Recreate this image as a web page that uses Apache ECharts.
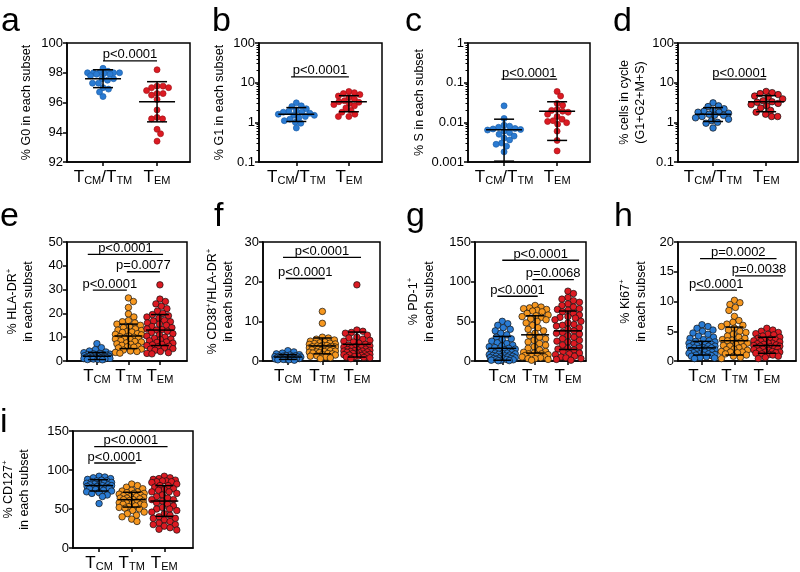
<!DOCTYPE html>
<html><head><meta charset="utf-8">
<script src="https://cdn.jsdelivr.net/npm/echarts@6/dist/echarts.min.js"></script>
<style>html,body{margin:0;padding:0;background:#fff}#c{width:800px;height:572px}</style>
</head><body><div id="c"></div>
<script>
// ---------------- data ----------------
const catsTwo = ['TCM/TTM', 'TEM'];
const catsThree = ['TCM', 'TTM', 'TEM'];

// a: % G0
const aTcm = [98.3, 98.1, 98.0, 98.0, 98.0, 98.0, 98.0, 97.95, 97.9, 97.9, 97.8, 97.6, 97.6, 97.5, 97.3, 97.3, 97.0, 96.9, 96.7, 96.4];
const aTem = [98.2, 97.1, 97.1, 97.0, 97.0, 96.8, 96.6, 96.6, 96.5, 96.2, 95.5, 95.0, 94.9, 94.9, 94.2, 93.9, 93.4];
const aErr = [[97.6, 97.0, 98.2], [96.05, 94.7, 97.4]];
const aSig = [[0, 1, 98.8]];
const aSigText = ['p<0.0001'];

// b: % G1
const bTcm = [3.1, 2.6, 2.5, 2.2, 2.0, 1.9, 1.8, 1.8, 1.7, 1.6, 1.5, 1.5, 1.4, 1.3, 1.2, 1.1, 1.0, 0.95, 0.72];
const bTem = [6.0, 5.6, 5.3, 5.0, 4.6, 4.3, 3.9, 3.5, 3.3, 3.2, 3.0, 2.8, 2.6, 2.3, 2.0, 1.8, 1.6, 1.4, 1.4];
const bErr = [[1.6, 1.05, 2.35], [3.3, 1.85, 4.7]];
const bSig = [[-0.1, 1, 14]];
const bSigText = ['p<0.0001'];

// c: % S
const cTcm = [0.026, 0.0125, 0.0085, 0.008, 0.0075, 0.007, 0.0068, 0.0066, 0.0064, 0.006, 0.0055, 0.005, 0.0045, 0.004, 0.0036, 0.003, 0.0028, 0.0025, 0.0018];
const cTem = [0.06, 0.046, 0.03, 0.027, 0.021, 0.02, 0.019, 0.018, 0.016, 0.014, 0.012, 0.011, 0.0105, 0.0098, 0.009, 0.006, 0.0035, 0.0019];
const cErr = [[0.0065, 0.00105, 0.012], [0.019, 0.0035, 0.033]];
const cSig = [[-0.05, 1, 0.123]];
const cSigText = ['p<0.0001'];

// d: % cells in cycle
const dTcm = [3.1, 2.6, 2.5, 2.2, 2.0, 1.9, 1.8, 1.8, 1.7, 1.6, 1.5, 1.5, 1.4, 1.3, 1.2, 1.1, 1.0, 0.95, 0.72];
const dTem = [6.0, 5.6, 5.3, 5.0, 4.6, 4.3, 3.9, 3.5, 3.3, 3.2, 3.0, 2.8, 2.6, 2.3, 2.0, 1.8, 1.6, 1.4, 1.4];
const dErr = [[1.6, 1.05, 2.35], [3.3, 1.85, 4.7]];
const dSig = [[0, 1, 12.3]];
const dSigText = ['p<0.0001'];

// e: % HLA-DR+
const eTcm = [7.3, 5.6, 4.8, 4.2, 3.8, 3.5, 3.2, 3.0, 2.9, 2.7, 2.6, 2.5, 2.4, 2.3, 2.2, 2.1, 2.0, 2.0, 1.9, 1.8, 1.7, 1.6, 1.5, 1.5, 1.4, 1.3, 1.2, 1.1, 1.0, 1.0, 0.9, 0.8, 0.7, 0.6, 0.5];
const eTtm = [26.5, 25.0, 22.5, 19.8, 18.5, 17.0, 16.5, 16.0, 15.5, 15.0, 14.5, 14.0, 13.5, 13.0, 12.8, 12.5, 12.2, 12.0, 11.5, 11.2, 11.0, 10.5, 10.2, 10.0, 9.6, 9.5, 9.2, 9.0, 8.6, 8.2, 8.0, 7.6, 7.2, 7.0, 6.6, 6.2, 6.0, 5.8, 5.5, 5.0, 4.6, 4.2, 4.0, 3.6, 3.3];
const eTem = [32, 26, 25, 24, 23, 22, 21, 20, 19.5, 19, 18.5, 18, 17, 16.8, 16.5, 16, 15.5, 15, 14.5, 14, 13.5, 13.2, 13, 12.5, 12, 11.5, 11, 10.5, 10, 9.5, 9.2, 9, 8.5, 8, 7.8, 7.5, 7, 6.8, 6.5, 6.2, 6, 5.5, 5.2, 5, 4.5, 4, 3.5, 3.2, 3];
const eErr = [[2.0, 0.6, 3.6], [10.5, 5.2, 15.5], [13.0, 6.5, 19.5]];
const eSig = [[-0.29, 2.1, 44.8], [0.95, 2.0, 37.5], [-0.13, 0.95, 29.8]];
const eSigText = ['p<0.0001', 'p=0.0077', 'p<0.0001'];

// f: % CD38+/HLA-DR+
const fTcm = [2.6, 2.3, 2.0, 1.8, 1.6, 1.5, 1.4, 1.3, 1.2, 1.2, 1.1, 1.1, 1.0, 1.0, 0.9, 0.9, 0.9, 0.8, 0.8, 0.7, 0.7, 0.6, 0.6, 0.5, 0.5, 0.4, 0.4, 0.3, 0.3, 0.2];
const fTtm = [12.5, 9.5, 6.0, 5.8, 5.5, 5.3, 5.0, 4.8, 4.6, 4.5, 4.4, 4.3, 4.2, 4.0, 3.9, 3.8, 3.7, 3.6, 3.6, 3.5, 3.4, 3.3, 3.2, 3.1, 3.0, 2.9, 2.8, 2.8, 2.7, 2.6, 2.5, 2.4, 2.3, 2.2, 2.1, 2.0, 1.9, 1.8, 1.6, 1.5, 1.3, 1.2, 1.0, 0.8, 0.6];
const fTem = [19.2, 7.8, 7.5, 7.2, 7.0, 6.5, 6.0, 5.8, 5.5, 5.2, 5.0, 4.8, 4.5, 4.2, 4.0, 3.8, 3.6, 3.5, 3.4, 3.2, 3.0, 2.9, 2.8, 2.7, 2.6, 2.5, 2.5, 2.4, 2.3, 2.2, 2.1, 2.0, 1.9, 1.8, 1.7, 1.6, 1.5, 1.4, 1.3, 1.2, 1.1, 1.0, 0.9, 0.8, 0.6];
const fErr = [[1.0, 0.4, 1.6], [3.8, 1.8, 5.8], [4.2, 1.0, 7.3]];
const fSig = [[-0.14, 2.12, 26.1], [-0.06, 1.07, 20.8]];
const fSigText = ['p<0.0001', 'p<0.0001'];

// g: % PD-1+
const gTcm = [50, 47, 45, 42, 40, 38, 35, 33, 30, 28, 27, 25, 23, 22, 20, 19, 18, 17, 16, 15, 14, 13, 12, 11, 10, 10, 9.5, 9, 8.5, 8, 7.5, 7, 6.5, 6, 6, 5.5, 5, 4.5, 4, 3.5, 3, 3, 2.5, 2, 2, 1.5, 1, 0.8, 0.5, 0.3];
const gTtm = [70, 68, 67, 66, 65, 64, 63, 62, 60, 58, 57, 56, 55, 53, 52, 50, 48, 45, 42, 40, 38, 35, 32, 30, 28, 26, 24, 22, 20, 18, 16, 14, 12, 11, 10, 9, 9, 8, 7, 7, 6, 5, 5, 4, 3, 3, 2, 1];
const gTem = [88, 85, 80, 78, 76, 74, 72, 70, 68, 66, 65, 64, 62, 60, 58, 56, 55, 54, 52, 50, 48, 46, 45, 44, 42, 40, 38, 36, 35, 34, 32, 30, 28, 26, 25, 24, 22, 20, 18, 16, 15, 14, 12, 10, 9, 8, 6, 5, 4, 3, 2, 1];
const gErr = [[16, 1, 31], [33, 10, 57], [38, 14.5, 63]];
const gSig = [[0, 2.34, 127], [0.92, 2.18, 102.5], [-0.15, 1.08, 81.6]];
const gSigText = ['p<0.0001', 'p=0.0068', 'p<0.0001'];

// h: % Ki67+
const hTcm = [6.1, 5.8, 5.5, 5.2, 5.0, 4.7, 4.5, 4.2, 4.0, 3.8, 3.6, 3.4, 3.3, 3.2, 3.0, 2.9, 2.8, 2.8, 2.7, 2.6, 2.5, 2.5, 2.4, 2.3, 2.2, 2.2, 2.1, 2.0, 1.9, 1.8, 1.8, 1.7, 1.6, 1.5, 1.5, 1.4, 1.3, 1.2, 1.2, 1.1, 1.0, 1.0, 0.9, 0.8, 0.7, 0.6, 0.5, 0.4];
const hTtm = [10.2, 9.8, 9.5, 9.0, 8.5, 7.5, 6.8, 6.5, 6.2, 6.0, 5.8, 5.5, 5.2, 5.0, 4.8, 4.5, 4.2, 4.0, 3.8, 3.6, 3.5, 3.4, 3.2, 3.0, 2.8, 2.6, 2.5, 2.4, 2.2, 2.0, 1.9, 1.8, 1.6, 1.5, 1.5, 1.4, 1.2, 1.0, 0.8, 0.6, 0.4];
const hTem = [5.5, 5.2, 5.0, 4.8, 4.6, 4.5, 4.4, 4.2, 4.0, 3.8, 3.7, 3.6, 3.5, 3.4, 3.3, 3.2, 3.0, 3.0, 2.9, 2.8, 2.7, 2.6, 2.5, 2.5, 2.4, 2.3, 2.2, 2.1, 2.0, 2.0, 1.9, 1.8, 1.7, 1.6, 1.5, 1.5, 1.4, 1.3, 1.2, 1.1, 1.0, 0.8, 0.6, 0.4];
const hErr = [[2.2, 1.0, 3.3], [3.4, 1.0, 5.7], [2.6, 1.3, 4.0]];
const hSig = [[-0.06, 2.3, 17.2], [1.02, 2.5, 14.3], [-0.2, 1.08, 11.9]];
const hSigText = ['p=0.0002', 'p=0.0038', 'p<0.0001'];

// i: % CD127+
const iTcm = [92, 91, 90, 89, 88, 87, 86, 86, 85, 84, 84, 83, 82, 82, 81, 81, 80, 80, 79, 79, 78, 78, 77, 77, 76, 75, 74, 73, 72, 71, 70, 68, 66, 57];
const iTtm = [82, 80, 78, 76, 74, 73, 72, 71, 70, 70, 69, 68, 67, 66, 66, 65, 64, 64, 63, 62, 62, 61, 60, 59, 58, 58, 57, 56, 56, 55, 54, 53, 52, 51, 50, 48, 46, 44, 42, 40, 37, 34];
const iTem = [92, 90, 89, 88, 87, 86, 86, 85, 85, 84, 82, 80, 80, 78, 76, 75, 74, 72, 72, 70, 68, 66, 64, 62, 62, 60, 58, 56, 54, 52, 50, 50, 48, 46, 44, 42, 40, 38, 38, 36, 34, 32, 30, 30, 28, 26, 24, 23];
const iErr = [[80, 73, 87.5], [62, 52.5, 71.5], [60.2, 40.6, 80]];
const iSig = [[-0.15, 2.1, 130], [-0.15, 1.12, 109]];
const iSigText = ['p<0.0001', 'p<0.0001'];

// ---------------- styling / layout ----------------
const FONT = '"Liberation Sans", Arial, Helvetica, sans-serif';
const BLUE = '#2a7bd3', ORANGE = '#f6971f', RED = '#dc1a22';

const panels = [
  {letter:'a', lpos:[1, 33], grid:[67, 43, 123, 119], xr:[-0.667, 1.61], y:{type:'value', min:92, max:100, interval:2},
   cats:catsTwo, groups:[aTcm, aTem], colors:[BLUE, RED], border:['#1c5fa8', '#a0141a'], err:aErr, sig:aSig, sigText:aSigText,
   name:'% G0 in each subset', gap:32, size:6, half:18, mw:18, cw:10},
  {letter:'b', lpos:[212, 33], grid:[259, 43, 123, 119], xr:[-0.71, 1.63], y:{type:'log', min:0.1, max:100},
   cats:catsTwo, groups:[bTcm, bTem], colors:[BLUE, RED], border:['#1c5fa8', '#a0141a'], err:bErr, sig:bSig, sigText:bSigText,
   name:'% G1 in each subset', gap:31, size:6, half:18, mw:18, cw:10},
  {letter:'c', lpos:[405, 33], grid:[468, 43, 122, 119], xr:[-0.68, 1.62], y:{type:'log', min:0.001, max:1},
   cats:catsTwo, groups:[cTcm, cTem], colors:[BLUE, RED], border:['#1c5fa8', '#a0141a'], err:cErr, sig:cSig, sigText:cSigText,
   name:'% S in each subset', gap:40, size:6, half:18, mw:18, cw:10},
  {letter:'d', lpos:[613, 33], grid:[678, 43, 120, 119], xr:[-0.66, 1.6], y:{type:'log', min:0.1, max:100},
   cats:catsTwo, groups:[dTcm, dTem], colors:[BLUE, RED], border:['#111', '#111'], err:dErr, sig:dSig, sigText:dSigText,
   name:'% cells in cycle\n(G1+G2+M+S)', gap:28, size:6.5, half:18, mw:18, cw:10},
  {letter:'e', lpos:[0, 228], grid:[67, 242, 120, 119], xr:[-0.95, 2.86], y:{type:'value', min:0, max:50, interval:10},
   cats:catsThree, groups:[eTcm, eTtm, eTem], colors:[BLUE, ORANGE, RED], border:['#111', '#111', '#111'], err:eErr, sig:eSig, sigText:eSigText,
   name:'% HLA-DR{sup|+}\nin each subset', gap:30, size:6.5, half:13, mw:14, cw:9},
  {letter:'f', lpos:[214, 228], grid:[263, 242, 117, 119], xr:[-0.72, 2.67], y:{type:'value', min:0, max:30, interval:10},
   cats:catsThree, groups:[fTcm, fTtm, fTem], colors:[BLUE, ORANGE, RED], border:['#111', '#111', '#111'], err:fErr, sig:fSig, sigText:fSigText,
   name:'% CD38{sup|+}/HLA-DR{sup|+}\nin each subset', gap:26, size:6.5, half:13, mw:14, cw:9},
  {letter:'g', lpos:[406, 228], grid:[475, 242, 111, 119], xr:[-0.83, 2.55], y:{type:'value', min:0, max:150, interval:50},
   cats:catsThree, groups:[gTcm, gTtm, gTem], colors:[BLUE, ORANGE, RED], border:['#111', '#111', '#111'], err:gErr, sig:gSig, sigText:gSigText,
   name:'% PD-1{sup|+}\nin each subset', gap:37, size:6.5, half:13, mw:14, cw:9},
  {letter:'h', lpos:[614, 228], grid:[678, 242, 118, 119], xr:[-0.74, 2.9], y:{type:'value', min:0, max:20, interval:5},
   cats:catsThree, groups:[hTcm, hTtm, hTem], colors:[BLUE, ORANGE, RED], border:['#111', '#111', '#111'], err:hErr, sig:hSig, sigText:hSigText,
   name:'% Ki67{sup|+}\nin each subset', gap:28, size:6.5, half:13, mw:14, cw:9},
  {letter:'i', lpos:[0, 434], grid:[68, 431, 125, 120], xr:[-0.8, 2.88], y:{type:'value', min:0, max:150, interval:50},
   cats:catsThree, groups:[iTcm, iTtm, iTem], colors:[BLUE, ORANGE, RED], border:['#111', '#111', '#111'], err:iErr, sig:iSig, sigText:iSigText,
   name:'% CD127{sup|+}\nin each subset', gap:40, size:6.5, half:13, mw:14, cw:9}
];

// beeswarm layout: horizontal offsets (px) so that dots do not overlap (width capped)
function swarm(values, pxPerY, isLog, d, maxHalf) {
  const ys = values.map(v => (isLog ? Math.log10(v) : v) * pxPerY);
  const order = values.map((v, i) => i).sort((i, j) => values[j] - values[i]);
  const cands = [];
  for (let x = 0; x <= maxHalf + 1e-9; x += 0.5) { cands.push(x); if (x > 0) cands.push(-x); }
  const placed = [], off = new Array(values.length);
  for (const i of order) {
    let best = 0, bestMin = -1;
    for (const cx of cands) {
      let mn = Infinity;
      for (const p of placed) {
        const dist = Math.hypot(cx - p[0], ys[i] - p[1]);
        if (dist < mn) mn = dist;
      }
      if (mn >= d * 0.92) { best = cx; bestMin = mn; break; }
      if (mn > bestMin) { bestMin = mn; best = cx; }
    }
    off[i] = best;
    placed.push([best, ys[i]]);
  }
  return off;
}

function catRich(s) {
  return s.split('/').map(part => part.replace(/^T([A-Z]+)$/, '{t|T}{s|$1}')).join('{t|/}');
}

const option = {animation: false, grid: [], xAxis: [], yAxis: [], series: [], graphic: []};

panels.forEach((p, k) => {
  const [gl, gt, gw, gh] = p.grid;
  const isLog = p.y.type === 'log';
  option.grid.push({left: gl, top: gt, width: gw, height: gh, show: true, borderColor: '#000', borderWidth: 1.5, backgroundColor: 'transparent'});
  const idx = p.cats.map((c, i) => i);
  option.xAxis.push({
    type: 'value', gridIndex: k, min: p.xr[0], max: p.xr[1],
    axisLine: {show: true, onZero: false, lineStyle: {color: '#000', width: 1.5}},
    axisTick: {show: true, customValues: idx, length: 4, lineStyle: {color: '#000', width: 1.5}},
    axisLabel: {show: true, customValues: idx, margin: 6, color: '#000',
      formatter: v => catRich(p.cats[Math.round(v)]),
      rich: {t: {fontSize: 17, fontFamily: FONT, color: '#000', lineHeight: 18},
             s: {fontSize: 11, fontFamily: FONT, color: '#000', lineHeight: 9, verticalAlign: 'bottom'}}},
    splitLine: {show: false}
  });
  const yAx = {
    type: p.y.type, gridIndex: k, min: p.y.min, max: p.y.max,
    axisLine: {show: true, onZero: false, lineStyle: {color: '#000', width: 1.5}},
    axisTick: {show: true, length: 4, lineStyle: {color: '#000', width: 1.5}},
    axisLabel: {color: '#000', fontSize: 13, fontFamily: FONT, margin: 4,
      formatter: v => String(+(+v).toPrecision(4))},
    splitLine: {show: false},
    name: p.name, nameLocation: 'middle', nameGap: p.gap, nameRotate: 90,
    nameTextStyle: {color: '#000', fontSize: 12.5, fontFamily: FONT, lineHeight: 16,
      rich: {sup: {fontSize: 8, fontFamily: FONT, color: '#000', verticalAlign: 'top', lineHeight: 10}}}
  };
  if (isLog) {
    yAx.logBase = 10;
    yAx.minorTick = {show: true, splitNumber: 9, length: 2.5, lineStyle: {color: '#000', width: 1}};
  } else {
    yAx.interval = p.y.interval;
  }
  option.yAxis.push(yAx);

  const pxPerY = isLog ? gh / (Math.log10(p.y.max) - Math.log10(p.y.min)) : gh / (p.y.max - p.y.min);
  const pxPerX = gw / (p.xr[1] - p.xr[0]);
  p.groups.forEach((vals, g) => {
    const off = swarm(vals, pxPerY, isLog, p.size, p.half);
    option.series.push({
      type: 'scatter', xAxisIndex: k, yAxisIndex: k, z: 2, symbol: 'circle', symbolSize: p.size,
      itemStyle: {color: p.colors[g], borderColor: p.border[g], borderWidth: 0.7, opacity: 1},
      emphasis: {disabled: true},
      data: vals.map((v, i) => [g + off[i] / pxPerX, v])
    });
  });
  // mean ± SD
  option.series.push({
    type: 'custom', xAxisIndex: k, yAxisIndex: k, z: 4, silent: true,
    renderItem: (params, api) => {
      const x = api.value(0);
      const pm = api.coord([x, api.value(1)]), pl = api.coord([x, api.value(2)]), ph = api.coord([x, api.value(3)]);
      const st = {stroke: '#000', lineWidth: 1.5};
      return {type: 'group', children: [
        {type: 'line', shape: {x1: pm[0] - p.mw, y1: pm[1], x2: pm[0] + p.mw, y2: pm[1]}, style: st},
        {type: 'line', shape: {x1: pl[0], y1: pl[1], x2: ph[0], y2: ph[1]}, style: st},
        {type: 'line', shape: {x1: ph[0] - p.cw, y1: ph[1], x2: ph[0] + p.cw, y2: ph[1]}, style: st},
        {type: 'line', shape: {x1: pl[0] - p.cw, y1: pl[1], x2: pl[0] + p.cw, y2: pl[1]}, style: st}
      ]};
    },
    data: p.err.map((e, g) => [g, e[0], e[1], e[2]])
  });
  // significance brackets
  option.series.push({
    type: 'custom', xAxisIndex: k, yAxisIndex: k, z: 5, silent: true,
    renderItem: (params, api) => {
      const p0 = api.coord([api.value(0), api.value(2)]), p1 = api.coord([api.value(1), api.value(2)]);
      return {type: 'group', children: [
        {type: 'line', shape: {x1: p0[0], y1: p0[1], x2: p1[0], y2: p1[1]}, style: {stroke: '#000', lineWidth: 1.3}},
        {type: 'text', style: {text: p.sigText[params.dataIndex], x: (p0[0] + p1[0]) / 2, y: p0[1] + 0.5,
          align: 'center', verticalAlign: 'bottom', font: '13px ' + FONT, fill: '#000'}}
      ]};
    },
    data: p.sig.map(s => [s[0], s[1], s[2]])
  });
  option.graphic.push({type: 'text', left: p.lpos[0], top: p.lpos[1] - 28,
    style: {text: p.letter, font: '34px ' + FONT, fill: '#000'}});
});

const chart = echarts.init(document.getElementById('c'), null, {renderer: 'canvas'});
chart.setOption(option);
</script>
</body></html>
